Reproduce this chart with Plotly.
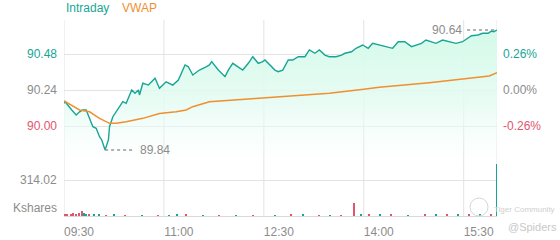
import pandas as pd
import plotly.graph_objects as go

DAY = "2024-01-02 "

# ---- data -------------------------------------------------------------
price_times = ["09:30","09:31","09:37","09:41","09:44","09:47","09:50","09:53","09:56","09:59",
               "10:02","10:04","10:07","10:10","10:11","10:14","10:17","10:20","10:23","10:26",
               "10:31","10:34","10:37","10:38","10:41","10:46","10:52","10:56","11:02","11:08",
               "11:13","11:19","11:22","11:26","11:32","11:38","11:41","11:43","11:49","11:55",
               "11:58","12:02","12:07","12:11","12:16","12:20","12:25","12:29","12:31","12:35",
               "12:40","12:43","12:47","12:52","12:56","13:01","13:07","13:11","13:16","13:20",
               "13:25","13:29","13:35","13:40","13:43","13:49","13:53","13:59","14:04","14:08",
               "14:14","14:20","14:26","14:31","14:37","14:43","14:47","14:52","14:56","15:01",
               "15:05","15:11","15:17","15:23","15:29","15:34","15:37","15:43","15:47","15:52",
               "15:55","15:57","16:00"]
price = [90.151,90.162,90.107,90.073,90.095,90.107,90.107,90.051,89.995,89.985,
         89.929,89.907,89.84,89.907,89.995,90.062,90.095,90.129,90.162,90.151,
         90.24,90.218,90.24,90.207,90.285,90.273,90.318,90.251,90.295,90.273,
         90.307,90.407,90.395,90.34,90.373,90.395,90.407,90.429,90.373,90.329,
         90.373,90.418,90.395,90.373,90.418,90.462,90.418,90.429,90.44,90.407,
         90.373,90.362,90.373,90.44,90.44,90.462,90.462,90.507,90.485,90.507,
         90.473,90.462,90.462,90.473,90.485,90.495,90.518,90.54,90.518,90.551,
         90.54,90.529,90.518,90.562,90.562,90.529,90.54,90.551,90.573,90.562,
         90.551,90.573,90.562,90.551,90.562,90.585,90.602,90.607,90.618,90.618,
         90.633,90.629,90.64]

vwap_times = ["09:30","09:44","09:53","10:02","10:11","10:17","10:26","10:41","10:56","11:11",
              "11:20","11:26","11:41","12:02","12:33","12:44","13:29","14:00","14:14","14:59",
              "15:31","15:53","16:00"]
vwap = [90.167,90.107,90.095,90.051,90.018,90.018,90.029,90.051,90.084,90.095,
        90.107,90.129,90.162,90.173,90.191,90.195,90.218,90.245,90.258,90.289,
        90.318,90.333,90.355]

vol_times = ["09:31","09:33","09:36","09:38","09:41","09:44","09:46","09:48","09:50","09:53",
             "09:57","10:02","10:08","10:15","10:25","10:40","10:55","11:05","11:12","11:20",
             "11:35","11:50","12:05","12:20","12:40","12:55","13:05","13:20","13:30","13:40",
             "13:51","13:58","14:05","14:15","14:25","14:40","14:55","15:05","15:15","15:25",
             "15:35","15:45","15:55","16:00"]
vol = [12,18,10,22,15,30,40,25,14,12,
       18,10,8,9,6,7,8,6,14,9,
       7,6,5,6,8,10,12,7,6,8,
       113,12,14,10,9,8,10,12,11,14,
       13,15,18,450]
vol_dir = [-1,-1,-1,-1,-1,-1,-1,1,1,-1,
           1,1,-1,1,-1,1,-1,1,1,-1,
           1,-1,1,-1,1,-1,1,-1,1,-1,
           -1,1,-1,1,-1,1,-1,1,-1,1,
           -1,1,-1,1]

prev_close = 90.24
price_ticks = [90.48, 90.24, 90.00]
price_tick_text = ["90.48", "90.24", "90.00"]
pct_tick_text = ["0.26%", "0.00%", "-0.26%"]
vol_tick = 314.02
time_ticks = ["09:30", "11:00", "12:30", "14:00", "15:30"]
session_end = "16:00"

# ---- style -------------------------------------------------------------
TEAL = "#17a596"
ORANGE = "#ef8f2f"
RED = "#e0566f"
GRAY = "#8c8c8c"
GRID = "#e3e3e3"
FONT = "Liberation Sans, Arial, sans-serif"

def ts(t):
    return pd.Timestamp(DAY + t)

px_t = [ts(t) for t in price_times]
vw_t = [ts(t) for t in vwap_times]
vo_t = [ts(t) for t in vol_times]

y_lo, y_hi = 89.7667, 90.7067
vol_hi = 479.7

fig = go.Figure()
fig.add_trace(go.Scatter(
    x=px_t, y=price, mode="lines", line=dict(color=TEAL, width=1.4),
    fill="tozeroy",
    fillgradient=dict(type="vertical",
                      colorscale=[[0, "rgba(240,253,248,0)"], [0.45, "rgba(228,251,242,0.85)"],
                                  [1, "rgba(212,250,233,1)"]],
                      start=y_lo, stop=max(price)),
    yaxis="y", hoverinfo="skip"))
fig.add_trace(go.Scatter(x=vw_t, y=vwap, mode="lines",
                         line=dict(color=ORANGE, width=1.5), yaxis="y", hoverinfo="skip"))
fig.add_trace(go.Bar(x=vo_t, y=vol, yaxis="y2", width=60000 * 1.2,
                     marker=dict(color=[TEAL if d > 0 else RED for d in vol_dir], line_width=0),
                     hoverinfo="skip"))

shapes = []
# vertical grid lines across both panels
for t in time_ticks + [session_end]:
    shapes.append(dict(type="line", xref="x", yref="paper", x0=ts(t), x1=ts(t), y0=0, y1=1,
                       line=dict(color=GRID, width=1), layer="below"))
# max / min markers
imax = price.index(max(price))
imin = price.index(min(price))
dash_len = pd.Timedelta(minutes=27)
shapes.append(dict(type="line", xref="x", yref="y", x0=px_t[imax] - dash_len, x1=px_t[imax],
                   y0=price[imax], y1=price[imax], line=dict(color="#999999", width=1.5, dash="3px,3px")))
shapes.append(dict(type="line", xref="x", yref="y", x0=px_t[imin], x1=px_t[imin] + dash_len,
                   y0=price[imin], y1=price[imin], line=dict(color="#999999", width=1.5, dash="3px,3px")))
# watermark logo circle (pixel positions converted to paper fractions)
shapes.append(dict(type="circle", xref="paper", yref="paper",
                   x0=(470 - 64) / 433, x1=(488 - 64) / 433, y0=(216 - 216) / 196, y1=(216 - 198) / 196,
                   line=dict(color="#d6d6d6", width=1)))

ann = []
ann.append(dict(x=px_t[imax] - dash_len, y=price[imax], xref="x", yref="y", text=f"{max(price):.2f}",
                showarrow=False, xanchor="right", xshift=-3, font=dict(color=GRAY, size=12, family=FONT)))
ann.append(dict(x=px_t[imin] + dash_len, y=price[imin], xref="x", yref="y", text=f"{min(price):.2f}",
                showarrow=False, xanchor="left", xshift=3, font=dict(color=GRAY, size=12, family=FONT)))
tick_cols = [TEAL, GRAY, RED]
for v, lt, rt, c in zip(price_ticks, price_tick_text, pct_tick_text, tick_cols):
    ann.append(dict(x=0, y=v, xref="paper", yref="y", text=lt, showarrow=False, xanchor="right",
                    xshift=-5, font=dict(color=c, size=12, family=FONT)))
    ann.append(dict(x=1, y=v, xref="paper", yref="y", text=rt, showarrow=False, xanchor="left",
                    xshift=4, font=dict(color=c, size=12, family=FONT)))
ann.append(dict(x=0, y=vol_tick, xref="paper", yref="y2", text=f"{vol_tick:.2f}", showarrow=False,
                xanchor="right", xshift=-5, font=dict(color=GRAY, size=12, family=FONT)))
ann.append(dict(x=0, y=0, xref="paper", yref="y2", text="Kshares", showarrow=False,
                xanchor="right", yanchor="bottom", xshift=-5, yshift=-1,
                font=dict(color=GRAY, size=12, family=FONT)))
# legend
ann.append(dict(x=0, y=1, xref="paper", yref="paper", text="Intraday", showarrow=False,
                xanchor="left", yanchor="bottom", yshift=3, font=dict(color=TEAL, size=12, family=FONT)))
ann.append(dict(x=56 / 433, y=1, xref="paper", yref="paper", text="VWAP", showarrow=False,
                xanchor="left", yanchor="bottom", yshift=3, font=dict(color=ORANGE, size=12, family=FONT)))
# watermark text
ann.append(dict(x=1, y=0, xref="paper", yref="paper", text="Tiger Community", showarrow=False,
                xanchor="left", yanchor="middle", xshift=-5, yshift=7,
                font=dict(color="#cfcfcf", size=8, family=FONT)))
ann.append(dict(x=1, y=0, xref="paper", yref="paper", text="@Spiders", showarrow=False,
                xanchor="left", yanchor="middle", xshift=9, yshift=-11,
                font=dict(color="#c8c8c8", size=11, family=FONT)))

fig.update_layout(
    width=560, height=240, margin=dict(l=64, r=63, t=20, b=24, autoexpand=False),
    paper_bgcolor="white", plot_bgcolor="white", showlegend=False, bargap=0,
    font=dict(family=FONT, size=12, color=GRAY),
    xaxis=dict(type="date", range=[ts(time_ticks[0]), ts(session_end)], showgrid=False,
               tickvals=[ts(t) for t in time_ticks], ticktext=time_ticks, automargin=False,
               ticklabelshift=15, ticklabelstandoff=5, ticks="", showline=True, linecolor="#d9d9d9",
               tickfont=dict(color=GRAY, size=12), anchor="y2", zeroline=False),
    yaxis=dict(domain=[0.2806, 1], range=[y_lo, y_hi], tickvals=price_ticks, showticklabels=False,
               gridcolor=GRID, zeroline=False, showline=False, automargin=False),
    yaxis2=dict(domain=[0, 0.2806], range=[0, vol_hi], tickvals=[vol_tick], showticklabels=False,
                gridcolor=GRID, zeroline=False, showline=False, automargin=False),
    shapes=shapes, annotations=ann,
)

fig.write_html("out.html")
